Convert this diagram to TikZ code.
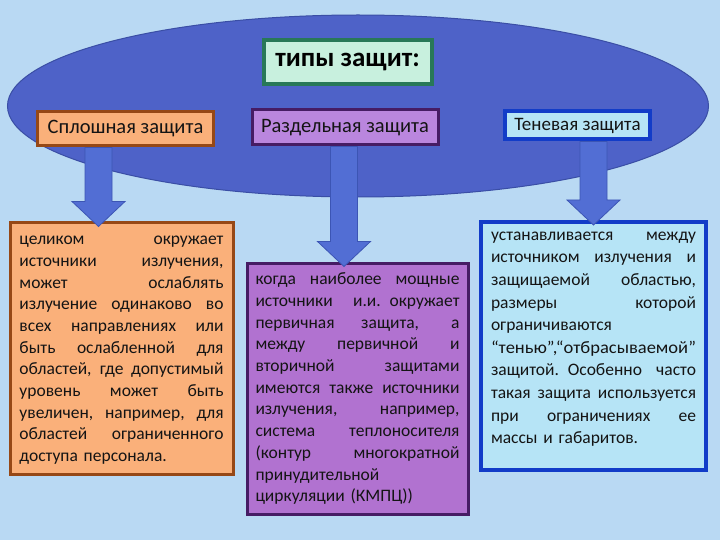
\documentclass[tikz,border=0pt]{standalone}
\usepackage{fontspec}
\usepackage{graphicx}
\setmainfont{Carlito}
\usetikzlibrary{calc,shapes.geometric}
\definecolor{bgc}{RGB}{185,217,243}
\definecolor{ovalc}{RGB}{78,98,200}
\definecolor{ovalb}{RGB}{58,78,165}
\definecolor{arrc}{RGB}{82,110,212}
\definecolor{arrb}{RGB}{60,85,180}
\definecolor{peach}{RGB}{250,176,122}
\definecolor{brownb}{RGB}{150,72,22}
\definecolor{lav}{RGB}{186,134,222}
\definecolor{lavb}{RGB}{70,28,100}
\definecolor{cyanf}{RGB}{182,228,246}
\definecolor{blueb}{RGB}{18,60,200}
\definecolor{mint}{RGB}{200,240,222}
\definecolor{greenb}{RGB}{40,120,88}
\definecolor{txt}{RGB}{20,20,20}
\newsavebox\lnbox
\newdimen\natw
\newcommand\jl[1]{\sbox\lnbox{\spaceskip=0.2em\relax #1}\natw=\wd\lnbox
  \ifdim\natw>\linewidth
    \pgfmathsetmacro\lnsc{\linewidth/\natw}%
    \hbox to\linewidth{\rule{0pt}{12.5pt}\scalebox{\lnsc}[1]{\usebox\lnbox}\hss}%
  \else
    \hbox to\linewidth{\rule{0pt}{12.5pt}\spaceskip=0.28em plus 20em\relax #1}%
  \fi}
\newcommand\fulll[1]{\sbox\lnbox{#1}\natw=\wd\lnbox
  \pgfmathsetmacro\lnsc{\linewidth/\natw}%
  \hbox to\linewidth{\rule{0pt}{12.5pt}\scalebox{\lnsc}[1]{\usebox\lnbox}\hss}}
\newcommand\lastl[1]{\hbox{\rule{0pt}{12.5pt}#1}}
\newcommand\blockarr[3]{%
  \path[arrow] let \p1=(#1 |- #2), \p2=($(#1 |- #3)+(0,5)$) in
   (\x1-13.5pt,\y1) -- (\x1+13.5pt,\y1) -- (\x1+13.5pt,\y2+25pt) -- (\x1+26.5pt,\y2+25pt)
   -- (\x1,\y2) -- (\x1-26.5pt,\y2+25pt) -- (\x1-13.5pt,\y2+25pt) -- cycle;}
\tikzset{
  hdr/.style={draw, line width=3pt, inner sep=0pt, font=\fontsize{20.5}{24}\selectfont, text=txt},
  tbox/.style={draw, line width=3pt, inner sep=0pt},
  ttext/.style={anchor=north, inner sep=0pt, text width=#1, align=left, font=\fontsize{17.5}{21.7}\selectfont, text=txt},
  arrow/.style={fill=arrc, draw=arrb, line width=0.8pt},
}
\begin{document}
\begin{tikzpicture}[x=1pt,y=-1pt]
\useasboundingbox (0,0) rectangle (720,540);
\fill[bgc] (0,0) rectangle (720,540);
\node[ellipse, fill=ovalc, draw=ovalb, line width=1pt, minimum width=701pt, minimum height=182pt, inner sep=0pt] (oval) at (358,106) {};
\node[draw=greenb, fill=mint, line width=4pt, minimum width=168pt, minimum height=44pt, inner sep=0pt, font=\fontsize{27}{30}\bfseries, text=black] (title) at (347.5,62.5) {типы защит:};
\node[hdr, fill=peach, draw=brownb, minimum width=176pt, minimum height=34pt] (h1) at (125.5,129) {Сплошная защита};
\node[hdr, fill=lav, draw=lavb, minimum width=186pt, minimum height=35pt] (h2) at (345,127.5) {Раздельная защита};
\node[hdr, fill=cyanf, draw=blueb, line width=4pt, minimum width=145pt, minimum height=28pt, font=\fontsize{19}{22}\selectfont] (h3) at (577.5,125.5) {Теневая защита};
\node[tbox, fill=peach, draw=brownb, minimum width=223pt, minimum height=251pt] (t1) at (121.5,348.5) {};
\node[tbox, fill=lav!85!violet, draw=lavb, minimum width=221pt, minimum height=251pt] (t2) at (357.5,388.5) {};
\node[tbox, fill=cyanf, draw=blueb, line width=4pt, minimum width=225pt, minimum height=248pt] (t3) at (593.5,346) {};
\coordinate (c1) at (98.5,0);
\coordinate (c2) at (344,0);
\coordinate (c3) at (593.5,0);
\blockarr{c1}{h1.south}{t1.north}
\blockarr{c2}{h2.south}{t2.north}
\blockarr{c3}{h3.south}{t3.north}
\node[ttext=204pt] (x1) at ($(t1.north)+(0,10.5)$) {%
\jl{целиком окружает}
\jl{источники излучения,}
\jl{может ослаблять}
\jl{излучение одинаково во}
\jl{всех направлениях или}
\jl{быть ослабленной для}
\jl{областей, где допустимый}
\jl{уровень может быть}
\jl{увеличен, например, для}
\jl{областей ограниченного}
\lastl{доступа персонала.}};
\node[ttext=204pt] (x2) at ($(t2.north)+(0,10.5)$) {%
\jl{когда наиболее мощные}
\jl{источники и.и. окружает}
\jl{первичная защита, а}
\jl{между первичной и}
\jl{вторичной защитами}
\jl{имеются также источники}
\jl{излучения, например,}
\jl{система теплоносителя}
\jl{(контур многократной}
\lastl{принудительной}
\lastl{циркуляции (КМПЦ))}};
\node[ttext=205pt, font=\fontsize{17.5}{22.6}\selectfont] (x3) at ($(t3.north)+(0,7.5)$) {%
\jl{устанавливается между}
\jl{источником излучения и}
\jl{защищаемой областью,}
\jl{размеры которой}
\lastl{ограничиваются}
\fulll{“тенью”,“отбрасываемой”}
\jl{защитой. Особенно часто}
\jl{такая защита используется}
\jl{при ограничениях ее}
\lastl{массы и габаритов.}};
\end{tikzpicture}
\end{document}
